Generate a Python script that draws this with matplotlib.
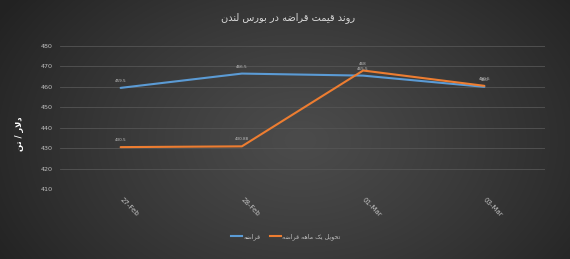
import numpy as np
import matplotlib
matplotlib.use("Agg")
import matplotlib.pyplot as plt
from matplotlib.lines import Line2D

# ---------------- data ----------------
categories = ["27-Feb", "28-Feb", "01-Mar", "03-Mar"]
scrap = [459.5, 466.5, 465.5, 460]
scrap_1m = [430.5, 430.88, 468, 460.5]
scrap_labels = ["459.5", "466.5", "465.5", "460"]
scrap_1m_labels = ["430.5", "430.88", "468", "460.5"]
title_text = "روند قیمت قراضه در بورس لندن"
ylabel_text = "دلار / تن"
legend_scrap = "قراضه"
legend_scrap_1m = "تحویل یک ماهه قراضه"
yticks = [410, 420, 430, 440, 450, 460, 470, 480]

# ------------- minimal Arabic/Persian shaping -------------
FORMS = {
    '\u0627': ('\uFE8D', '\uFE8E', None, None),
    '\u0628': ('\uFE8F', '\uFE90', '\uFE91', '\uFE92'),
    '\u062A': ('\uFE95', '\uFE96', '\uFE97', '\uFE98'),
    '\u062D': ('\uFEA1', '\uFEA2', '\uFEA3', '\uFEA4'),
    '\u062F': ('\uFEA9', '\uFEAA', None, None),
    '\u0631': ('\uFEAD', '\uFEAE', None, None),
    '\u0633': ('\uFEB1', '\uFEB2', '\uFEB3', '\uFEB4'),
    '\u0636': ('\uFEBD', '\uFEBE', '\uFEBF', '\uFEC0'),
    '\u0642': ('\uFED5', '\uFED6', '\uFED7', '\uFED8'),
    '\u0644': ('\uFEDD', '\uFEDE', '\uFEDF', '\uFEE0'),
    '\u0645': ('\uFEE1', '\uFEE2', '\uFEE3', '\uFEE4'),
    '\u0646': ('\uFEE5', '\uFEE6', '\uFEE7', '\uFEE8'),
    '\u0647': ('\uFEE9', '\uFEEA', '\uFEEB', '\uFEEC'),
    '\u0648': ('\uFEED', '\uFEEE', None, None),
    '\u06CC': ('\uFBFC', '\uFBFD', '\uFBFE', '\uFBFF'),
    '\u06A9': ('\uFB8E', '\uFB8F', '\uFB90', '\uFB91'),
}


def _dual(c):
    return c in FORMS and FORMS[c][2] is not None


def shape(s):
    out = []
    i = 0
    n = len(s)
    while i < n:
        c = s[i]
        if c not in FORMS:
            out.append(c)
            i += 1
            continue
        prev = s[i - 1] if i > 0 else ''
        cp = _dual(prev)
        if c == '\u0644' and i + 1 < n and s[i + 1] == '\u0627':
            out.append('\uFEFC' if cp else '\uFEFB')
            i += 2
            continue
        nxt = s[i + 1] if i + 1 < n else ''
        cn = _dual(c) and (nxt in FORMS)
        iso, fin, ini, med = FORMS[c]
        if cp and cn:
            g = med
        elif cp:
            g = fin
        elif cn:
            g = ini
        else:
            g = iso
        out.append(g)
        i += 1
    return ''.join(reversed(out))


plt.rcParams['font.family'] = ['DejaVu Sans']

W, H = 570, 259
fig = plt.figure(figsize=(W / 100, H / 100), dpi=100)

# background radial gradient
bg = fig.add_axes([0, 0, 1, 1], zorder=0)
yy, xx = np.mgrid[0:H, 0:W]
cx, cy = 300, 140
r = np.sqrt(((xx - cx) / (W * 0.62)) ** 2 + ((yy - cy) / (H * 0.95)) ** 2)
r = np.clip(r, 0, 1)
c_in, c_out = 0x4b / 255, 0x22 / 255
img = c_in + (c_out - c_in) * r ** 1.2
bg.imshow(np.dstack([img, img, img]), aspect='auto', extent=[0, 1, 0, 1])
bg.set_axis_off()

left, right = 60 / W, 545 / W
top, bottom = 1 - 46 / H, 1 - 189 / H
ax = fig.add_axes([left, bottom, right - left, top - bottom], zorder=1)
ax.set_facecolor('none')

x = np.arange(len(categories))
blue = '#5B9BD5'
orange = '#ED7D31'
ax.plot(x, scrap, color=blue, lw=1.5, solid_capstyle='round', zorder=3)
ax.plot(x, scrap_1m, color=orange, lw=1.5, solid_capstyle='round', zorder=4)

for xi, v, lab in zip(x, scrap, scrap_labels):
    ax.annotate(lab, (xi, v), xytext=(0, 5), textcoords='offset points',
                ha='center', va='center', fontsize=3, color='#bfbfbf', zorder=5)
for xi, v, lab in zip(x, scrap_1m, scrap_1m_labels):
    ax.annotate(lab, (xi, v), xytext=(0, 5), textcoords='offset points',
                ha='center', va='center', fontsize=3, color='#bfbfbf', zorder=5)

ax.set_xlim(-0.5, len(categories) - 0.5)
ax.set_ylim(410, 480)
ax.set_yticks(yticks)
ax.set_yticklabels([str(t) for t in yticks], fontsize=4.6, color='#bfbfbf')
ax.set_xticks(x)
ax.set_xticklabels(categories, fontsize=5, color='#bfbfbf', rotation=-45,
                   ha='left', va='center', rotation_mode='anchor')
ax.tick_params(axis='both', length=0)
ax.tick_params(axis='y', pad=5)
ax.tick_params(axis='x', pad=7)
ax.grid(axis='y', color='#555555', lw=0.6)
for s in ax.spines.values():
    s.set_visible(False)

fig.text(288 / W, 1 - 18 / H, shape(title_text), ha='center', va='center',
         fontsize=7, color='#d9d9d9')
fig.text(20 / W, 1 - 134 / H, shape(ylabel_text), ha='center', va='center',
         rotation=90, fontsize=6, color='white', fontweight='bold')

handles = [Line2D([], [], color=blue, lw=1.5),
           Line2D([], [], color=orange, lw=1.5)]
fig.legend(handles, [shape(legend_scrap), shape(legend_scrap_1m)],
           loc='center', bbox_to_anchor=(286 / W, 1 - 237 / H), ncol=2,
           frameon=False, fontsize=4.6, labelcolor='#bfbfbf',
           handlelength=1.7, handletextpad=0.2, columnspacing=1.5)

fig.savefig('out.png', dpi=100)
